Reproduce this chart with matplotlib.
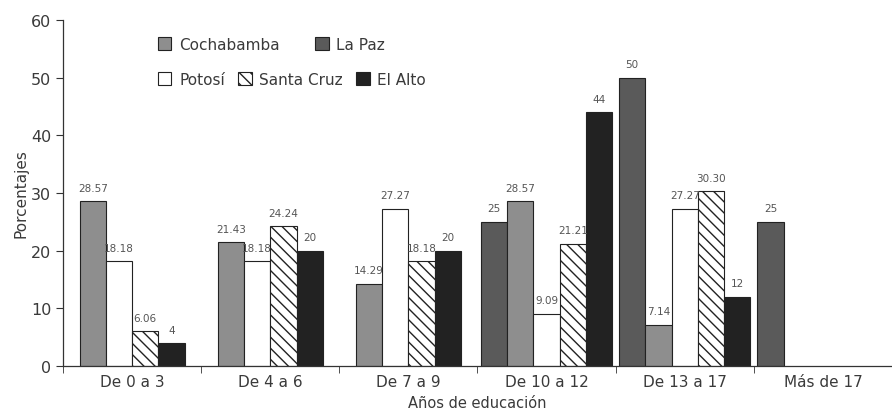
import numpy as np
import matplotlib
matplotlib.use("Agg")
import matplotlib.pyplot as plt
from matplotlib.patches import Patch

categories = ["De 0 a 3", "De 4 a 6", "De 7 a 9", "De 10 a 12", "De 13 a 17", "Más de 17"]
series_names = ["La Paz", "Cochabamba", "Potosí", "Santa Cruz", "El Alto"]
la_paz = [np.nan, np.nan, np.nan, 25, 50, 25]
cochabamba = [28.57, 21.43, 14.29, 28.57, 7.14, 0]
potosi = [18.18, 18.18, 27.27, 9.09, 27.27, 0]
santa_cruz = [6.06, 24.24, 18.18, 21.21, 30.30, 0]
el_alto = [4, 20, 20, 44, 12, 0]
yticks = [0, 10, 20, 30, 40, 50, 60]

series_values = [la_paz, cochabamba, potosi, santa_cruz, el_alto]
styles = {
    "La Paz": dict(facecolor="#5a5a5a", hatch=None),
    "Cochabamba": dict(facecolor="#8e8e8e", hatch=None),
    "Potosí": dict(facecolor="white", hatch=None),
    "Santa Cruz": dict(facecolor="white", hatch="\\\\\\"),
    "El Alto": dict(facecolor="#222222", hatch=None),
}

plt.rcParams["font.family"] = ["DejaVu Sans"]
plt.rcParams["hatch.linewidth"] = 1.0
plt.rcParams["hatch.color"] = "#505050"

fig = plt.figure(figsize=(8.92, 4.14), dpi=100)
W, H = 892, 414
ax = fig.add_axes([63 / W, 1 - 367 / H, (892 - 63) / W, (367 - 21) / H])

w = 0.19
text_col = "#3a3a3a"
for gi, cat in enumerate(categories):
    present = [k for k in range(len(series_names)) if not np.isnan(series_values[k][gi])]
    n = len(present)
    for j, k in enumerate(present):
        v = series_values[k][gi]
        if v == 0:
            continue
        x = gi + (j - (n - 1) / 2) * w
        st = styles[series_names[k]]
        ax.bar(x, v, width=w, facecolor=st["facecolor"], hatch=st["hatch"],
               edgecolor="#222222", linewidth=0.8, zorder=2)
        lab = str(int(v)) if float(v).is_integer() else f"{v:.2f}"
        ax.annotate(lab, (x, v), xytext=(0, 6), textcoords="offset points",
                    ha="center", va="bottom", fontsize=7.5, color="#555555",
                    family=["Liberation Sans Narrow", "DejaVu Sans"])

ax.set_xlim(-0.5, -0.5 + (892 - 63) / 139)
ax.set_ylim(0, 60)
ax.set_yticks(yticks)
ax.set_xticks(range(len(categories)))
ax.set_xticklabels(categories)
ax.set_xticks([i - 0.5 for i in range(len(categories) + 1)], minor=True)
ax.tick_params(axis="x", which="major", length=0, pad=6, labelsize=11, labelcolor=text_col)
ax.tick_params(axis="x", which="minor", length=5, direction="out", color="#333333")
ax.tick_params(axis="y", length=5, direction="out", labelsize=11.5, labelcolor=text_col, color="#333333")
for s in ["top", "right"]:
    ax.spines[s].set_visible(False)
for s in ["left", "bottom"]:
    ax.spines[s].set_color("#333333")
    ax.spines[s].set_linewidth(0.9)

ax.set_ylabel("Porcentajes", fontsize=11, color=text_col, labelpad=2)
ax.set_xlabel("Años de educación", fontsize=10.5, color=text_col, labelpad=4)

def handle(name):
    st = styles[name]
    return Patch(facecolor=st["facecolor"], hatch=st["hatch"], edgecolor="#222222", linewidth=0.8, label=name)

row1 = ["Cochabamba", "La Paz"]
row2 = ["Potosí", "Santa Cruz", "El Alto"]
leg1 = ax.legend(handles=[handle(n) for n in row1], loc="upper left",
                 bbox_to_anchor=(150 / W, 1 - 30 / H), bbox_transform=fig.transFigure,
                 ncol=2, frameon=False, fontsize=11, handlelength=0.9, handleheight=0.9,
                 handletextpad=0.5, columnspacing=2.3, borderpad=0, labelcolor=text_col)
ax.add_artist(leg1)
leg2 = ax.legend(handles=[handle(n) for n in row2], loc="upper left",
                 bbox_to_anchor=(150 / W, 1 - 65 / H), bbox_transform=fig.transFigure,
                 ncol=3, frameon=False, fontsize=11, handlelength=0.9, handleheight=0.9,
                 handletextpad=0.5, columnspacing=0.85, borderpad=0, labelcolor=text_col)

fig.savefig("out.png", dpi=100)
